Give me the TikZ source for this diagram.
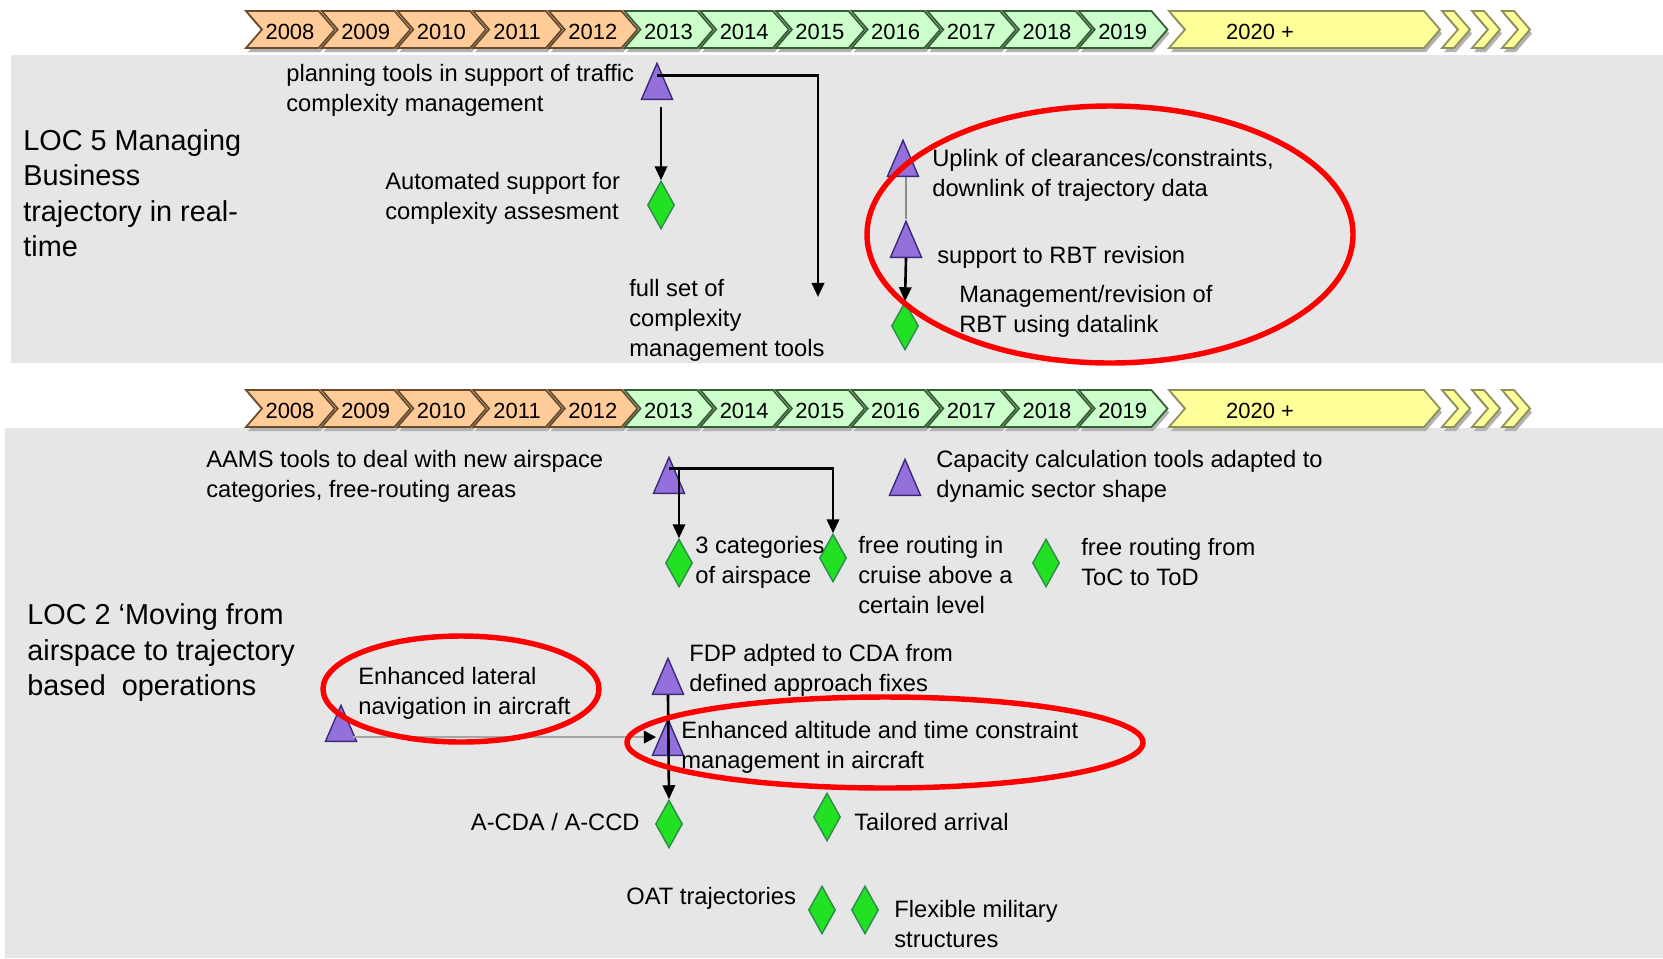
\documentclass[tikz,border=0pt]{standalone}
\usepackage{fontspec}
\setmainfont{Liberation Sans}
\usepackage{tikz}
\usetikzlibrary{shapes.geometric, positioning, arrows.meta}
\definecolor{panelGray}{HTML}{E6E6E6}
\definecolor{yrOrange}{HTML}{FFCC99}
\definecolor{yrOrangeLine}{HTML}{6B4A2A}
\definecolor{yrGreen}{HTML}{CCFFCC}
\definecolor{yrGreenLine}{HTML}{355E35}
\definecolor{yrYellow}{HTML}{FFFF99}
\definecolor{yrYellowLine}{HTML}{8F8F5A}
\definecolor{msPurple}{HTML}{9370DB}
\definecolor{msPurpleLine}{HTML}{3C2A78}
\definecolor{msGreen}{HTML}{22E022}
\definecolor{msGreenLine}{HTML}{2E8B4A}
\definecolor{ringRed}{HTML}{FF0000}
\tikzstyle{panel}=[fill=panelGray]
\tikzstyle{yearLabel}=[inner sep=0pt, font=\fontsize{12.5}{13}\selectfont]
\tikzstyle{txt}=[anchor=west, align=left, inner sep=0pt, font=\fontsize{13.5}{17.1}\selectfont]
\tikzstyle{locTitle}=[anchor=west, align=left, inner sep=0pt, font=\fontsize{16.4}{20.2}\selectfont]
\tikzstyle{activity}=[isosceles triangle, isosceles triangle stretches, shape border rotate=90,
  minimum width=0.62cm, minimum height=0.72cm, inner sep=0pt, anchor=south,
  fill=msPurple, draw=msPurpleLine, line width=0.8pt]
\tikzstyle{result}=[diamond, minimum width=0.54cm, minimum height=0.96cm, inner sep=0pt,
  fill=msGreen, draw=msGreenLine, line width=0.8pt]
\tikzstyle{link}=[draw=black, line width=1.5pt, -{Triangle[length=8pt, width=7pt]}]
\tikzstyle{softLink}=[draw=black!35, line width=1.5pt, -{Triangle[length=7pt, width=7pt, black]}]
\tikzstyle{ring}=[draw=ringRed, line width=3.1pt]
% chevron: left x, top y, body width, fill, line
\newcommand{\chev}[5]{%
  \fill[black!30] (#1+2,#2+4) -- ++(#3,0) -- ++(16,18.5) -- ++(-16,18.5) -- ++(-#3,0) -- ++(16,-18.5) -- cycle;
  \filldraw[fill=#4, draw=#5, line width=1pt] (#1,#2) -- ++(#3,0) -- ++(16,18.5) -- ++(-16,18.5)
    -- ++(-#3,0) -- ++(16,-18.5) -- cycle;
}

\begin{document}
\begin{tikzpicture}[x=0.02cm, y=-0.02cm]
  \useasboundingbox (0,0) rectangle (1663,958);
  \fill[white] (0,0) rectangle (1663,958);
  \path[panel] (11,55) rectangle (1663,363);
  \path[panel] (5,428) rectangle (1663,958);

  % the two time lines
  \foreach \ty/\tl in {11/top, 390/bot} {
    \foreach \yr [count=\i from 0] in {2008,...,2019} {
      \pgfmathsetmacro{\xl}{246+\i*75.7}
      \ifnum\yr<2013 \chev{\xl}{\ty}{72.7}{yrOrange}{yrOrangeLine}
      \else \chev{\xl}{\ty}{72.7}{yrGreen}{yrGreenLine}\fi
      \node[yearLabel] (\tl\yr) at (\xl+44, \ty+21) {\yr};
    }
    \chev{1169}{\ty}{255}{yrYellow}{yrYellowLine}
    \node[yearLabel] (\tl2020) at (1260, \ty+21) {2020 +};
    \foreach \xs in {1442,1472,1502} {
      \chev{\xs}{\ty}{12}{yrYellow}{yrYellowLine}
    }
  }

  % LOC 5
  \node[activity] (triPlan) at (657,100) {};
  \node[result] (dmAuto) at (661,205) {};
  \coordinate (fullEnd) at (818,297);
  \node[activity] (triUplink) at (903,177) {};
  \node[activity] (triRBT) at (906,258) {};
  \node[result] (dmRBT) at (905,326) {};

  \draw[link, shorten <=4pt] (dmAuto.north |- triPlan.south) -- (dmAuto.north);
  \draw[link] ([yshift=-0.28cm]triPlan.north) -| (fullEnd);
  \draw[black!45, line width=1pt] (triRBT.north |- triUplink.south) -- (triRBT.north);
  \draw[link] (triRBT.south) -- (dmRBT.north);

  \node[locTitle] (loc5) at (23,193) {LOC 5 Managing\\Business\\trajectory in real-\\time};
  \node[txt] (lblPlan) at (286,90) {planning tools in support of traffic\\complexity management};
  \node[txt] (lblAuto) at (385,198) {Automated support for\\complexity assesment};
  \node[txt] (lblFull) at (629,320) {full set of\\complexity\\management tools};
  \node[txt] (lblUplink) at (932,175) {Uplink of clearances/constraints,\\downlink of trajectory data};
  \node[txt] (lblRBT) at (937,257) {support to RBT revision};
  \node[txt] (lblMgmt) at (959,311) {Management/revision of\\RBT using datalink};

  % LOC 2
  \node[activity] (triAAMS) at (669,494) {};
  \node[result] (dmCat) at (679,563) {};
  \node[result] (dmCruise) at (833,558) {};
  \node[activity] (triCap) at (905,496) {};
  \node[result] (dmToC) at (1046,563) {};
  \node[activity] (triLat) at (341,742) {};
  \node[activity] (triFDP) at (668,695) {};
  \node[activity] (triAlt) at (668,756) {};
  \node[result] (dmCDA) at (669,824) {};
  \node[result] (dmTail) at (827,817) {};
  \node[result] (dmOAT) at (822,910) {};
  \node[result] (dmFlex) at (865,910) {};

  \coordinate (aamsOut) at ([yshift=-0.26cm]triAAMS.north);
  \draw[link] (aamsOut) -| (dmCruise.north);
  \draw[link] (aamsOut -| dmCat.north) -- (dmCat.north);
  \draw[softLink] ([yshift=-0.12cm]triLat.east) -- ([yshift=-0.12cm]triLat.east -| triAlt.west);
  \draw[link] (triFDP.south) -- (dmCDA.north);

  \node[locTitle] (loc2) at (27,653) {LOC 2 `Moving from\\airspace to trajectory\\based~ operations};
  \node[txt] (lblAAMS) at (206,476) {AAMS tools to deal with new airspace\\categories, free-routing areas};
  \node[txt] (lblCat) at (695,562) {3 categories\\of airspace};
  \node[txt] (lblCruise) at (858,575) {free routing in\\cruise above a\\certain level};
  \node[txt] (lblCap) at (936,476) {Capacity calculation tools adapted to\\dynamic sector shape};
  \node[txt] (lblToC) at (1081,562) {free routing from\\ToC to ToD};
  \node[txt] (lblLat) at (358,693) {Enhanced lateral\\navigation in aircraft};
  \node[txt] (lblFDP) at (689,670) {FDP adpted to CDA from\\defined approach fixes};
  \node[txt] (lblAlt) at (681,747) {Enhanced altitude and time constraint\\management in aircraft};
  \node[txt, anchor=east] (lblCDA) at (640,822) {A-CDA / A-CCD};
  \node[txt] (lblTail) at (854,822) {Tailored arrival};
  \node[txt] (lblOAT) at (626,898) {OAT trajectories};
  \node[txt] (lblFlex) at (894,924) {Flexible military\\structures};

  \draw[ring] (1110,234.5) ellipse [x radius=243, y radius=128.5];
  \draw[ring] (461,689) ellipse [x radius=138, y radius=53];
  \draw[ring] (885,742.5) ellipse [x radius=258, y radius=45.5];
\end{tikzpicture}
\end{document}
